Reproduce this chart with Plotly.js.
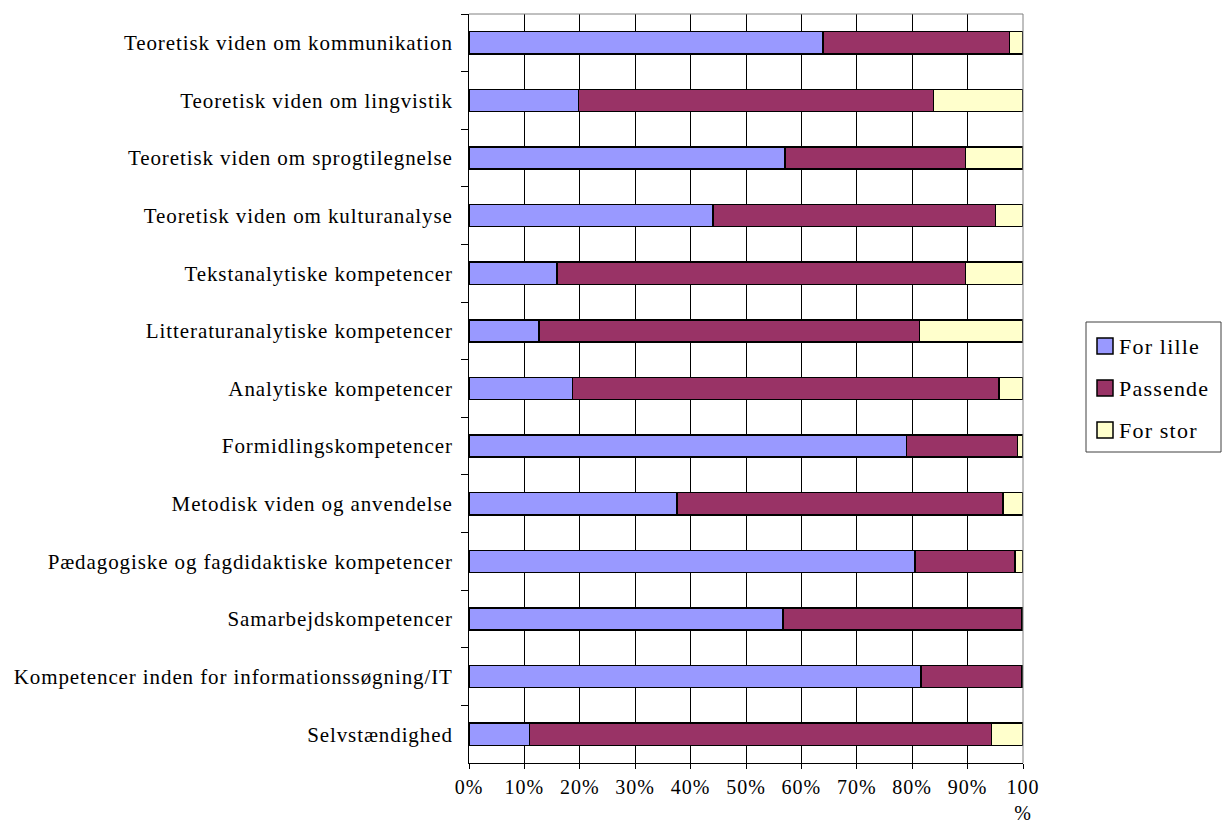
<!DOCTYPE html>
<html>
<head>
<meta charset="utf-8">
<script src="https://cdn.plot.ly/plotly-3.0.1.min.js"></script>
<style>
html, body { margin: 0; padding: 0; background: #fff; }
#chart { width: 1222px; height: 821px; }
.ytick text { letter-spacing: 0.9px; }
.xtick text { letter-spacing: 1px; }
.annotation-text { letter-spacing: 1.2px; }
</style>
</head>
<body>
<div id="chart"></div>
<script>
const categories = [
  "Teoretisk viden om kommunikation",
  "Teoretisk viden om lingvistik",
  "Teoretisk viden om sprogtilegnelse",
  "Teoretisk viden om kulturanalyse",
  "Tekstanalytiske kompetencer",
  "Litteraturanalytiske kompetencer",
  "Analytiske kompetencer",
  "Formidlingskompetencer",
  "Metodisk viden og anvendelse",
  "Pædagogiske og fagdidaktiske kompetencer",
  "Samarbejdskompetencer",
  "Kompetencer inden for informationssøgning/IT",
  "Selvstændighed"
];
const forLille = [63.9, 19.8, 57.0, 44.0, 15.9, 12.6, 18.7, 79.0, 37.5, 80.5, 56.7, 81.6, 10.9];
const passende = [33.7, 64.0, 32.6, 51.0, 73.7, 68.7, 77.0, 20.0, 58.9, 18.1, 43.0, 18.1, 83.4];
const forStor  = [2.4, 16.2, 10.4, 5.0, 10.4, 18.7, 4.3, 1.0, 3.6, 1.4, 0.3, 0.3, 5.7];
const seriesNames = ["For lille", "Passende", "For stor"];
const seriesColors = ["#9999FF", "#993366", "#FFFFCC"];
const tickVals = [0, 10, 20, 30, 40, 50, 60, 70, 80, 90, 100];
const tickText = ["0%", "10%", "20%", "30%", "40%", "50%", "60%", "70%", "80%", "90%", "100<br>%"];

const W = 1222, H = 821;
const M = { l: 469, r: 199, t: 14, b: 58 };
const PW = W - M.l - M.r, PH = H - M.t - M.b;
const px2x = p => (p - M.l) / PW;
const px2y = p => (H - M.b - p) / PH;

const seriesData = [forLille, passende, forStor];
const traces = seriesData.map((vals, i) => ({
  type: 'bar',
  orientation: 'h',
  name: seriesNames[i],
  y: categories,
  x: vals,
  marker: { color: seriesColors[i], line: { color: '#000', width: 1.5 } },
  hoverinfo: 'x+y+name'
}));

const serif = '"Liberation Serif", "Times New Roman", serif';

// manual legend (box, swatches, labels)
const legTop = 322, legLeft = 1086, legRight = 1221, legBottom = 452;
const itemY0 = 346, itemStep = 42;
const shapes = [
  { type: 'line', xref: 'paper', yref: 'paper', x0: 0, x1: 1, y0: 1, y1: 1, line: { color: '#808080', width: 1 } },
  { type: 'line', xref: 'paper', yref: 'paper', x0: 1, x1: 1, y0: 0, y1: 1, line: { color: '#808080', width: 1 } },
  { type: 'rect', xref: 'paper', yref: 'paper', x0: px2x(legLeft), x1: px2x(legRight), y0: px2y(legBottom), y1: px2y(legTop),
    line: { color: '#404040', width: 1 }, fillcolor: 'rgba(0,0,0,0)' }
];
const annotations = [];
seriesNames.forEach((nm, i) => {
  const cy = itemY0 + i * itemStep;
  shapes.push({ type: 'rect', xref: 'paper', yref: 'paper',
    x0: px2x(1097), x1: px2x(1113), y0: px2y(cy + 8), y1: px2y(cy - 8),
    line: { color: '#000', width: 1.5 }, fillcolor: seriesColors[i] });
  annotations.push({ xref: 'paper', yref: 'paper', x: px2x(1117), y: px2y(cy),
    xanchor: 'left', yanchor: 'middle', showarrow: false, text: nm,
    font: { family: serif, size: 22, color: '#000' } });
});

const layout = {
  width: W, height: H,
  margin: { l: M.l, r: M.r, t: M.t, b: M.b, autoexpand: false },
  paper_bgcolor: '#fff', plot_bgcolor: '#fff',
  font: { family: serif, size: 20, color: '#000' },
  barmode: 'stack',
  bargap: 0.615,
  showlegend: false,
  xaxis: {
    range: [0, 100], tickmode: 'array', tickvals: tickVals, ticktext: tickText,
    showgrid: true, gridcolor: '#000', gridwidth: 1,
    showline: true, linecolor: '#000', linewidth: 1,
    ticks: 'outside', ticklen: 5, tickcolor: '#000',
    zeroline: false, fixedrange: true, ticklabelstandoff: 1,
    tickfont: { family: serif, size: 20, color: '#000' }
  },
  yaxis: {
    type: 'category', autorange: 'reversed',
    showgrid: false, showline: true, linecolor: '#000', linewidth: 1,
    ticks: 'outside', ticklen: 7, tickcolor: '#000', tickson: 'boundaries',
    fixedrange: true, ticklabelstandoff: 11,
    tickfont: { family: serif, size: 21, color: '#000' }
  },
  shapes: shapes,
  annotations: annotations
};

Plotly.newPlot('chart', traces, layout, { displayModeBar: false, staticPlot: true });
</script>
</body>
</html>
